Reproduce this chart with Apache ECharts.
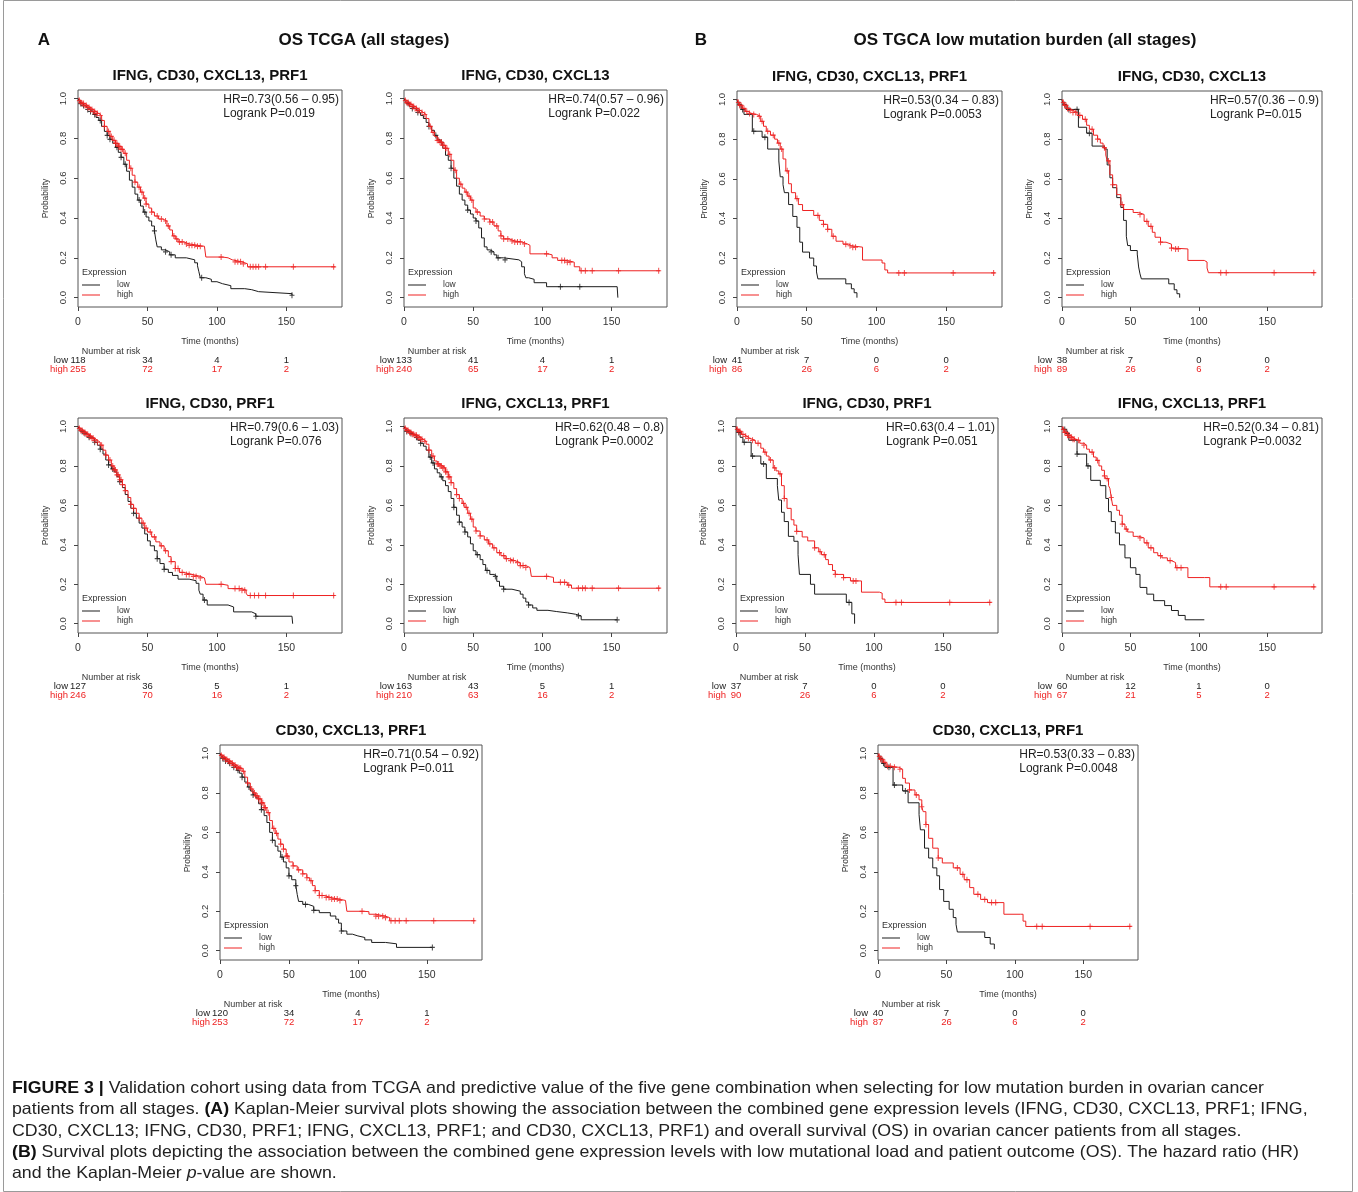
<!DOCTYPE html>
<html><head><meta charset="utf-8">
<script src="https://cdn.jsdelivr.net/npm/echarts@6/dist/echarts.min.js"></script>
<style>html,body{margin:0;padding:0;background:#fff}#c{width:1358px;height:1192px}</style>
</head><body><div id="c"></div>
<script>
// ---------------- DATA ----------------
const panelTitles = ['IFNG, CD30, CXCL13, PRF1','IFNG, CD30, CXCL13','IFNG, CD30, PRF1','IFNG, CXCL13, PRF1','CD30, CXCL13, PRF1',
                     'IFNG, CD30, CXCL13, PRF1','IFNG, CD30, CXCL13','IFNG, CD30, PRF1','IFNG, CXCL13, PRF1','CD30, CXCL13, PRF1'];
const hrTexts = ['HR=0.73(0.56 – 0.95)','HR=0.74(0.57 – 0.96)','HR=0.79(0.6 – 1.03)','HR=0.62(0.48 – 0.8)','HR=0.71(0.54 – 0.92)',
                 'HR=0.53(0.34 – 0.83)','HR=0.57(0.36 – 0.9)','HR=0.63(0.4 – 1.01)','HR=0.52(0.34 – 0.81)','HR=0.53(0.33 – 0.83)'];
const pTexts = ['Logrank P=0.019','Logrank P=0.022','Logrank P=0.076','Logrank P=0.0002','Logrank P=0.011',
                'Logrank P=0.0053','Logrank P=0.015','Logrank P=0.051','Logrank P=0.0032','Logrank P=0.0048'];
const riskTimes = [0, 50, 100, 150];
const riskLow  = [[118,34,4,1],[133,41,4,1],[127,36,5,1],[163,43,5,1],[120,34,4,1],[41,7,0,0],[38,7,0,0],[37,7,0,0],[60,12,1,0],[40,7,0,0]];
const riskHigh = [[255,72,17,2],[240,65,17,2],[246,70,16,2],[210,63,16,2],[253,72,17,2],[86,26,6,2],[89,26,6,2],[90,26,6,2],[67,21,5,2],[87,26,6,2]];
const yTicks = [0, 0.2, 0.4, 0.6, 0.8, 1.0];
const xTicks = [0, 50, 100, 150];

// A1
const a1Low = [[0,1],[1,0.985],[2,0.975],[3,0.965],[5,0.955],[7,0.945],[9,0.935],[11,0.92],[13,0.905],[15,0.89],[17,0.86],[19,0.835],[21,0.815],[23,0.795],[25,0.775],[27,0.755],[29,0.73],[31,0.705],[33,0.67],[35,0.635],[37,0.59],[39,0.555],[41,0.52],[43,0.49],[45,0.46],[47,0.43],[49,0.405],[51,0.385],[53,0.36],[55,0.335],[56,0.29],[57,0.255],[60,0.24],[63,0.23],[66,0.215],[70,0.2],[78,0.19],[84,0.175],[86,0.16],[87,0.13],[88,0.1],[92,0.092],[96,0.08],[100,0.07],[104,0.06],[110,0.045],[120,0.04],[125,0.03],[130,0.02],[154,0.012]];
const a1High = [[0,1],[1,0.99],[2,0.98],[3,0.975],[5,0.965],[7,0.955],[9,0.945],[11,0.935],[13,0.925],[15,0.915],[17,0.89],[19,0.86],[21,0.835],[23,0.81],[25,0.79],[27,0.775],[29,0.76],[31,0.745],[33,0.725],[35,0.69],[37,0.65],[39,0.615],[41,0.58],[43,0.555],[45,0.53],[47,0.5],[49,0.47],[51,0.45],[53,0.43],[55,0.41],[58,0.395],[61,0.385],[64,0.36],[66,0.34],[68,0.31],[70,0.295],[72,0.28],[76,0.27],[80,0.263],[86,0.258],[91,0.255],[92,0.204],[104,0.2],[108,0.19],[111,0.18],[118,0.17],[122,0.155],[185,0.155]];
const a1LowCens = [2,4,7,9,12,16,21,23,28,31,34,44,48,55,63,67,89,154];
const a1HighCens = [1,2,3,4,5,6,7,8,9,10,11,12,13,14,16,19,22,24,26,27,28,29,30,31,32,34,38,41,44,46,48,49,53,57,60,63,65,69,71,73,75,78,80,82,84,86,88,103,113,115,117,119,124,126,128,130,135,155,184];
// A2
const a2Low = [[0,1],[1,0.985],[2,0.975],[4,0.96],[6,0.95],[8,0.94],[10,0.93],[12,0.915],[14,0.9],[16,0.88],[18,0.86],[20,0.84],[22,0.815],[24,0.795],[26,0.78],[28,0.75],[30,0.715],[32,0.69],[34,0.65],[36,0.6],[38,0.56],[40,0.52],[42,0.49],[44,0.465],[46,0.44],[48,0.42],[50,0.4],[52,0.385],[54,0.35],[56,0.3],[58,0.255],[60,0.24],[62,0.23],[65,0.215],[67,0.2],[72,0.19],[83,0.18],[85,0.155],[87,0.12],[88,0.1],[90,0.092],[94,0.075],[103,0.055],[154,0.055],[154.5,0]];
const a2High = [[0,1],[1,0.99],[2,0.98],[4,0.97],[6,0.96],[8,0.95],[10,0.94],[12,0.93],[14,0.92],[16,0.9],[18,0.86],[20,0.83],[22,0.81],[24,0.79],[26,0.78],[28,0.765],[30,0.75],[32,0.72],[34,0.69],[36,0.64],[38,0.6],[40,0.57],[42,0.55],[44,0.53],[46,0.51],[48,0.49],[50,0.45],[52,0.43],[55,0.41],[58,0.395],[62,0.38],[65,0.36],[68,0.335],[70,0.31],[72,0.295],[76,0.285],[80,0.28],[85,0.27],[89,0.263],[91,0.22],[104,0.215],[107,0.2],[111,0.187],[118,0.178],[123,0.155],[127,0.135],[185,0.135]];
const a2LowCens = [3,6,10,18,23,27,34,46,52,63,68,73,113,127];
const a2HighCens = [1,2,3,4,5,6,7,8,9,10,11,13,15,19,21,24,25,26,27,28,29,30,31,33,37,41,45,47,49,53,58,62,64,67,70,72,75,78,80,82,84,87,103,114,116,118,120,128,131,136,155,184];
// A3
const a3Low = [[0,1],[1,0.985],[2,0.975],[4,0.965],[6,0.955],[8,0.945],[10,0.935],[12,0.92],[14,0.905],[16,0.885],[18,0.86],[20,0.83],[22,0.805],[24,0.785],[26,0.77],[28,0.745],[30,0.72],[32,0.69],[34,0.655],[36,0.62],[38,0.585],[40,0.56],[42,0.535],[44,0.51],[46,0.485],[48,0.455],[50,0.42],[52,0.395],[55,0.37],[57,0.33],[59,0.305],[62,0.276],[65,0.26],[68,0.245],[72,0.226],[80,0.218],[85,0.205],[87,0.17],[88,0.15],[90,0.12],[93,0.095],[108,0.085],[112,0.06],[125,0.05],[128,0.038],[154,0.038],[154.5,0]];
const a3High = [[0,1],[1,0.99],[2,0.98],[4,0.97],[6,0.96],[8,0.95],[10,0.94],[12,0.93],[14,0.92],[16,0.905],[18,0.88],[20,0.855],[22,0.83],[24,0.8],[26,0.78],[28,0.755],[30,0.73],[32,0.705],[34,0.675],[36,0.64],[38,0.605],[40,0.585],[42,0.56],[44,0.535],[46,0.51],[48,0.485],[50,0.465],[53,0.44],[56,0.415],[59,0.395],[62,0.37],[65,0.34],[67,0.315],[70,0.28],[73,0.26],[76,0.25],[82,0.24],[88,0.232],[91,0.225],[92,0.2],[104,0.195],[108,0.178],[118,0.17],[121,0.155],[122,0.143],[185,0.143]];
const a3LowCens = [3,5,8,12,16,22,25,30,40,57,62,91,128];
const a3HighCens = [1,2,3,4,5,6,7,8,9,10,11,12,14,17,20,23,25,26,27,28,29,30,31,32,34,38,40,44,47,49,52,55,60,63,67,70,72,75,78,80,83,85,88,103,113,116,118,120,124,127,130,135,155,184];
// A4
const a4Low = [[0,1],[1,0.985],[2,0.975],[4,0.965],[6,0.955],[8,0.945],[10,0.93],[12,0.915],[14,0.9],[16,0.88],[18,0.845],[20,0.815],[22,0.785],[24,0.765],[26,0.745],[28,0.725],[30,0.7],[32,0.67],[34,0.635],[36,0.59],[38,0.55],[40,0.515],[42,0.49],[44,0.465],[46,0.44],[48,0.405],[50,0.37],[52,0.35],[55,0.325],[57,0.3],[59,0.27],[62,0.25],[65,0.24],[67,0.215],[69,0.19],[72,0.175],[78,0.165],[84,0.15],[86,0.13],[88,0.11],[90,0.095],[93,0.08],[96,0.068],[104,0.062],[110,0.055],[118,0.048],[124,0.04],[128,0.02],[154,0.02]];
const a4High = [[0,1],[1,0.99],[2,0.98],[4,0.97],[6,0.96],[8,0.955],[10,0.945],[12,0.935],[14,0.925],[16,0.91],[18,0.88],[20,0.85],[22,0.825],[24,0.81],[26,0.8],[28,0.79],[30,0.77],[32,0.745],[34,0.715],[36,0.685],[38,0.655],[40,0.635],[42,0.61],[44,0.59],[46,0.56],[48,0.53],[50,0.49],[52,0.47],[55,0.445],[58,0.425],[61,0.405],[64,0.385],[67,0.36],[70,0.345],[73,0.33],[76,0.32],[80,0.31],[84,0.295],[88,0.285],[91,0.275],[92,0.24],[104,0.235],[108,0.21],[118,0.196],[121,0.18],[185,0.18]];
const a4LowCens = [2,5,9,12,19,21,27,36,40,44,53,60,66,72,90,126,154];
const a4HighCens = [1,2,3,4,5,6,7,8,9,10,11,12,13,15,18,21,24,25,26,27,28,29,30,31,32,33,34,38,40,43,45,47,49,52,55,60,62,65,69,72,74,77,79,82,84,86,88,103,113,116,119,126,129,131,136,155,184];
// A5
const a5Low = [[0,1],[1,0.985],[2,0.975],[4,0.962],[6,0.95],[8,0.94],[10,0.93],[12,0.915],[14,0.9],[16,0.88],[18,0.855],[20,0.83],[22,0.81],[24,0.79],[26,0.775],[28,0.745],[30,0.715],[32,0.685],[34,0.65],[36,0.6],[38,0.56],[40,0.53],[42,0.505],[44,0.475],[46,0.45],[48,0.42],[50,0.38],[52,0.36],[55,0.33],[56,0.285],[57,0.25],[60,0.235],[64,0.225],[68,0.205],[72,0.193],[80,0.176],[84,0.16],[86,0.14],[88,0.1],[92,0.084],[96,0.075],[100,0.067],[105,0.055],[110,0.042],[120,0.035],[128,0.017],[154,0.017]];
const a5High = [[0,1],[1,0.99],[2,0.98],[4,0.97],[6,0.96],[8,0.95],[10,0.94],[12,0.93],[14,0.925],[16,0.91],[18,0.88],[20,0.85],[22,0.82],[24,0.8],[26,0.785],[28,0.77],[30,0.75],[32,0.725],[34,0.7],[36,0.66],[38,0.62],[40,0.595],[42,0.566],[44,0.54],[46,0.515],[48,0.48],[50,0.45],[53,0.43],[56,0.41],[60,0.39],[63,0.37],[65,0.355],[67,0.33],[69,0.305],[72,0.28],[76,0.27],[80,0.262],[86,0.255],[91,0.25],[92,0.2],[104,0.198],[108,0.185],[113,0.175],[120,0.168],[123,0.152],[185,0.152]];
const a5LowCens = [2,4,7,10,13,16,21,24,30,38,45,50,55,62,68,88,154];
const a5HighCens = [1,2,3,4,5,6,7,8,9,10,11,12,13,14,15,17,20,23,25,26,27,28,29,30,31,32,33,35,39,41,44,46,48,49,53,57,60,63,66,69,72,74,77,79,81,83,85,87,103,113,115,118,120,124,127,130,135,155,184];
// B1
const b1Low = [[0,1],[1,0.975],[3,0.95],[5,0.925],[11,0.84],[18,0.81],[22,0.75],[30,0.69],[31,0.61],[33,0.57],[34,0.53],[37,0.47],[40,0.41],[43,0.355],[45,0.28],[47,0.23],[52,0.2],[55,0.16],[57,0.13],[58,0.095],[78,0.07],[82,0.045],[84,0.025],[86,0]];
const b1High = [[0,1],[1,0.985],[2,0.97],[4,0.955],[6,0.94],[8,0.93],[10,0.925],[14,0.915],[17,0.89],[19,0.865],[21,0.84],[24,0.82],[27,0.8],[29,0.78],[31,0.75],[33,0.7],[35,0.64],[37,0.575],[39,0.53],[42,0.5],[44,0.47],[47,0.44],[55,0.415],[59,0.39],[62,0.37],[65,0.345],[68,0.31],[71,0.285],[76,0.27],[80,0.262],[82,0.255],[90,0.19],[104,0.175],[106,0.14],[108,0.125],[185,0.125]];
const b1LowCens = [2,4,12,20];
const b1HighCens = [1,2,3,5,7,9,12,16,18,22,26,30,32,36,43,58,62,65,69,78,81,83,85,116,120,155,184];
// B2
const b2Low = [[0,1],[1,0.975],[3,0.95],[12,0.86],[18,0.83],[22,0.765],[31,0.75],[33,0.67],[35,0.605],[37,0.555],[40,0.505],[43,0.455],[45,0.39],[47,0.31],[48,0.263],[50,0.238],[55,0.22],[56,0.155],[57,0.12],[58,0.095],[78,0.07],[82,0.04],[84,0.02],[86,0]];
const b2High = [[0,1],[1,0.985],[2,0.97],[4,0.955],[6,0.945],[8,0.935],[11,0.92],[15,0.9],[18,0.87],[20,0.85],[23,0.82],[26,0.8],[28,0.78],[30,0.757],[32,0.72],[33,0.69],[35,0.62],[37,0.57],[40,0.52],[43,0.47],[45,0.445],[52,0.43],[56,0.42],[60,0.385],[63,0.36],[66,0.33],[68,0.305],[72,0.28],[76,0.27],[80,0.25],[82,0.246],[92,0.188],[104,0.18],[106,0.15],[107,0.126],[185,0.126]];
const b2LowCens = [2,5,11,20];
const b2HighCens = [1,2,3,4,6,8,10,13,17,22,26,31,34,37,44,57,62,65,72,80,83,85,116,120,155,184];
// B3
const b3Low = [[0,1],[1,0.97],[3,0.945],[5,0.92],[11,0.85],[18,0.81],[22,0.736],[30,0.7],[31,0.627],[33,0.565],[35,0.518],[38,0.443],[42,0.418],[45,0.35],[46,0.25],[54,0.2],[57,0.15],[80,0.108],[84,0.05],[86,0]];
const b3High = [[0,1],[1,0.985],[2,0.975],[4,0.96],[6,0.95],[8,0.94],[10,0.93],[14,0.915],[18,0.89],[20,0.87],[22,0.85],[24,0.83],[27,0.79],[29,0.775],[31,0.76],[33,0.7],[35,0.635],[37,0.585],[40,0.527],[42,0.5],[44,0.468],[48,0.44],[52,0.42],[57,0.385],[60,0.365],[62,0.35],[65,0.325],[67,0.3],[70,0.27],[72,0.25],[78,0.234],[83,0.217],[91,0.16],[104,0.155],[106,0.125],[108,0.108],[185,0.108]];
const b3LowCens = [2,6,12,20,82];
const b3HighCens = [1,2,3,5,7,9,12,16,21,25,28,32,35,44,57,61,64,72,78,85,87,116,120,155,184];
// B4
const b4Low = [[0,1],[1,0.985],[3,0.965],[5,0.93],[11,0.86],[18,0.8],[21,0.727],[28,0.7],[32,0.635],[34,0.568],[36,0.518],[39,0.46],[42,0.4],[46,0.334],[50,0.284],[54,0.25],[57,0.184],[62,0.15],[67,0.117],[75,0.092],[80,0.067],[85,0.042],[90,0.02],[104,0.02]];
const b4High = [[0,1],[1,0.985],[2,0.97],[4,0.955],[6,0.945],[8,0.935],[10,0.93],[13,0.915],[16,0.905],[18,0.885],[20,0.87],[23,0.845],[25,0.828],[27,0.8],[29,0.778],[31,0.75],[32,0.736],[34,0.7],[35,0.686],[36,0.64],[37,0.6],[40,0.575],[42,0.55],[44,0.505],[46,0.48],[48,0.465],[52,0.443],[56,0.435],[60,0.41],[63,0.385],[67,0.36],[70,0.345],[73,0.334],[77,0.32],[80,0.31],[83,0.284],[92,0.234],[104,0.234],[108,0.187],[185,0.187]];
const b4LowCens = [2,4,11,19];
const b4HighCens = [1,2,3,4,5,6,7,8,9,12,16,22,26,31,33,36,44,47,57,62,65,72,79,84,87,116,120,155,184];
// B5
const b5Low = [[0,1],[1,0.975],[3,0.95],[5,0.93],[11,0.84],[18,0.81],[22,0.75],[30,0.69],[31,0.613],[34,0.52],[37,0.47],[40,0.42],[43,0.38],[45,0.31],[48,0.25],[52,0.21],[55,0.168],[57,0.134],[58,0.095],[78,0.067],[82,0.034],[85,0.008]];
const b5High = [[0,1],[1,0.985],[2,0.97],[4,0.955],[6,0.935],[10,0.93],[15,0.92],[18,0.874],[20,0.85],[23,0.815],[27,0.79],[30,0.765],[32,0.73],[33,0.705],[35,0.64],[37,0.57],[40,0.52],[44,0.47],[47,0.445],[55,0.42],[60,0.387],[63,0.36],[67,0.32],[70,0.286],[75,0.26],[80,0.244],[87,0.244],[92,0.185],[104,0.185],[106,0.15],[108,0.123],[185,0.123]];
const b5LowCens = [2,4,8,12,20];
const b5HighCens = [1,2,3,5,7,9,12,16,23,28,32,35,44,58,62,65,73,78,83,86,116,120,155,184];

const captionLines = [
  '{b|FIGURE 3 |} Validation cohort using data from TCGA and predictive value of the five gene combination when selecting for low mutation burden in ovarian cancer',
  'patients from all stages. {b|(A)} Kaplan-Meier survival plots showing the association between the combined gene expression levels (IFNG, CD30, CXCL13, PRF1; IFNG,',
  'CD30, CXCL13; IFNG, CD30, PRF1; IFNG, CXCL13, PRF1; and CD30, CXCL13, PRF1) and overall survival (OS) in ovarian cancer patients from all stages.',
  '{b|(B)} Survival plots depicting the association between the combined gene expression levels with low mutational load and patient outcome (OS). The hazard ratio (HR)',
  'and the Kaplan-Meier {i|p}-value are shown.'
];

// ---------------- LAYOUT ----------------
const W = 1358;
const FONT = 'Liberation Sans';
const LOW_C = '#1c1c1c', HIGH_C = '#ee2222', AX_C = '#444';
const X_MAX = 190, Y_MIN = -0.047, Y_MAX = 1.043;
// [left, top, width, height]
const boxes = [
  [78,90,264,217],[404,90,263,217],[78,418,264,215],[404,418,263,215],[220,745,262,215],
  [737,91,265,216],[1062,91,260,216],[736,418,262,215],[1062,418,260,215],[878,745,260,215]
];
const curves = [
  [a1Low,a1High,a1LowCens,a1HighCens],[a2Low,a2High,a2LowCens,a2HighCens],[a3Low,a3High,a3LowCens,a3HighCens],
  [a4Low,a4High,a4LowCens,a4HighCens],[a5Low,a5High,a5LowCens,a5HighCens],
  [b1Low,b1High,b1LowCens,b1HighCens],[b2Low,b2High,b2LowCens,b2HighCens],[b3Low,b3High,b3LowCens,b3HighCens],
  [b4Low,b4High,b4LowCens,b4HighCens],[b5Low,b5High,b5LowCens,b5HighCens]
];

function stepAt(curve, t) {
  let y = curve[0][1];
  for (const p of curve) { if (p[0] <= t) y = p[1]; else break; }
  return y;
}
const plusPath = 'path://M-1,-5H1V-1H5V1H1V5H-1V1H-5V-1H-1Z';
const AXES_PER_GRID = 4;

const grid = [], xAxis = [], yAxis = [], series = [], legend = [], graphic = [];

boxes.forEach((b, i) => {
  const [L, T, Wd, H] = b;
  const B = T + H;
  grid.push({left: L, top: T, width: Wd, height: H, show: true, borderColor: '#555', borderWidth: 1});
  const baseX = {gridIndex: i, type: 'value', min: 0, max: X_MAX, interval: 50, position: 'bottom',
    axisLine: {show: false, onZero: false}, splitLine: {show: false}};
  // main x axis: labels + title (series use this one)
  xAxis.push(Object.assign({}, baseX, {
    axisTick: {show: false},
    axisLabel: {fontFamily: FONT, fontSize: 10.5, color: '#333', margin: 15, verticalAlign: 'middle', showMaxLabel: false},
    name: 'Time (months)', nameLocation: 'middle', nameGap: 30,
    nameTextStyle: {fontFamily: FONT, fontSize: 9, color: '#333'}
  }));
  // tick-only axis on the box edge
  xAxis.push(Object.assign({}, baseX, {
    offset: 0,
    axisTick: {show: true, length: 4, lineStyle: {color: AX_C}, customValues: xTicks},
    axisLabel: {show: false}
  }));
  // risk table rows as extra axes sharing the same scale
  [[riskLow[i], 53, '#222'], [riskHigh[i], 62, HIGH_C]].forEach(([arr, off, col]) => {
    xAxis.push(Object.assign({}, baseX, {
      offset: off, axisTick: {show: false},
      axisLabel: {fontFamily: FONT, fontSize: 9.5, color: col, margin: 0, verticalAlign: 'middle', showMaxLabel: false,
        formatter: v => { const k = riskTimes.indexOf(v); return k < 0 ? '' : String(arr[k]); }}
    }));
  });
  const xi = i * AXES_PER_GRID;
  yAxis.push({
    gridIndex: i, type: 'value', min: Y_MIN, max: Y_MAX, position: 'left',
    axisLine: {show: false, onZero: false}, splitLine: {show: false},
    axisTick: {show: true, length: 4, lineStyle: {color: AX_C}, customValues: yTicks},
    axisLabel: {fontFamily: FONT, fontSize: 9.5, color: '#333', rotate: 90, margin: 10, customValues: yTicks,
      formatter: v => Number(v).toFixed(1)},
    name: 'Probability', nameLocation: 'middle', nameGap: 28, nameRotate: 90,
    nameTextStyle: {fontFamily: FONT, fontSize: 8.5, color: '#333'}
  });
  const [lo, hi, loC, hiC] = curves[i];
  series.push({type: 'line', name: 'low', xAxisIndex: xi, yAxisIndex: i, data: lo, step: 'end', symbol: 'none',
    color: LOW_C, lineStyle: {width: 1, color: LOW_C}, silent: true, animation: false, z: 3});
  series.push({type: 'line', name: 'high', xAxisIndex: xi, yAxisIndex: i, data: hi, step: 'end', symbol: 'none',
    color: HIGH_C, lineStyle: {width: 1, color: HIGH_C}, silent: true, animation: false, z: 4});
  series.push({type: 'scatter', name: 'low censored', xAxisIndex: xi, yAxisIndex: i,
    data: loC.map(t => [t, stepAt(lo, t)]), symbol: plusPath, symbolSize: [5, 6],
    itemStyle: {color: LOW_C}, silent: true, animation: false, z: 3});
  series.push({type: 'scatter', name: 'high censored', xAxisIndex: xi, yAxisIndex: i,
    data: hiC.map(t => [t, stepAt(hi, t)]), symbol: plusPath, symbolSize: [5, 6],
    itemStyle: {color: HIGH_C}, silent: true, animation: false, z: 4});
  legend.push({
    data: ['low', 'high'], orient: 'vertical', left: L + 4, top: B - 27, padding: 0, itemGap: 0,
    itemWidth: 18, itemHeight: 1, icon: 'rect', selectedMode: false,
    textStyle: {fontFamily: FONT, fontSize: 8.5, color: '#333', lineHeight: 10, padding: [0, 0, 0, 12]}
  });
  // panel texts
  graphic.push({type: 'text', x: L + Wd / 2, y: T - 14, style: {text: panelTitles[i], fontFamily: FONT, fontWeight: 'bold', fontSize: 15, fill: '#111', align: 'center', verticalAlign: 'middle'}});
  graphic.push({type: 'text', right: W - (L + Wd) + 3, top: T + 3, style: {text: hrTexts[i] + '\n' + pTexts[i], fontFamily: FONT, fontSize: 12, lineHeight: 13.5, fill: '#222', align: 'left'}});
  graphic.push({type: 'text', x: L + 4, y: B - 34, style: {text: 'Expression', fontFamily: FONT, fontSize: 9, fill: '#333', align: 'left', verticalAlign: 'middle'}});
  graphic.push({type: 'text', x: L + 33, y: B + 45, style: {text: 'Number at risk', fontFamily: FONT, fontSize: 9, fill: '#333', align: 'center', verticalAlign: 'middle'}});
  graphic.push({type: 'text', x: L - 10, y: B + 53, style: {text: 'low', fontFamily: FONT, fontSize: 9.5, fill: '#222', align: 'right', verticalAlign: 'middle'}});
  graphic.push({type: 'text', x: L - 10, y: B + 62, style: {text: 'high', fontFamily: FONT, fontSize: 9.5, fill: HIGH_C, align: 'right', verticalAlign: 'middle'}});
});

// section headers
graphic.push({type: 'text', x: 44, y: 40, style: {text: 'A', fontFamily: FONT, fontWeight: 'bold', fontSize: 17, fill: '#111', align: 'center', verticalAlign: 'middle'}});
graphic.push({type: 'text', x: 364, y: 40, style: {text: 'OS TCGA (all stages)', fontFamily: FONT, fontWeight: 'bold', fontSize: 17, fill: '#111', align: 'center', verticalAlign: 'middle'}});
graphic.push({type: 'text', x: 701, y: 40, style: {text: 'B', fontFamily: FONT, fontWeight: 'bold', fontSize: 17, fill: '#111', align: 'center', verticalAlign: 'middle'}});
graphic.push({type: 'text', x: 1025, y: 40, style: {text: 'OS TGCA low mutation burden (all stages)', fontFamily: FONT, fontWeight: 'bold', fontSize: 17, fill: '#111', align: 'center', verticalAlign: 'middle'}});

// caption (condensed look via horizontal scaling)
const CAP_SIZE = 16.5;
const cv = document.createElement('canvas').getContext('2d');
function measureRich(line) {
  let w = 0; const re = /\{(\w)\|([^}]*)\}|([^{]+)/g; let m;
  while ((m = re.exec(line))) {
    if (m[3] !== undefined) { cv.font = CAP_SIZE + 'px "' + FONT + '"'; w += cv.measureText(m[3]).width; }
    else { cv.font = (m[1] === 'b' ? 'bold ' : 'italic ') + CAP_SIZE + 'px "' + FONT + '"'; w += cv.measureText(m[2]).width; }
  }
  return w;
}
const capScale = 1252 / measureRich(captionLines[0]);
const capY = [1088, 1109.5, 1131, 1152, 1173.5];
captionLines.forEach((ln, k) => {
  graphic.push({type: 'text', x: 12, y: capY[k], scaleX: capScale, style: {
    text: ln, fontFamily: FONT, fontSize: CAP_SIZE, fill: '#222', align: 'left', verticalAlign: 'middle',
    rich: {b: {fontWeight: 'bold', fontFamily: FONT, fontSize: CAP_SIZE, fill: '#111'}, i: {fontStyle: 'italic', fontFamily: FONT, fontSize: CAP_SIZE, fill: '#222'}}
  }});
});
// outer frame
graphic.push({type: 'rect', shape: {x: 3.5, y: 0.5, width: 1349, height: 1191}, style: {fill: 'none', stroke: '#9a9a9a', lineWidth: 1}, z: -1});

const chart = echarts.init(document.getElementById('c'), null, {renderer: 'canvas'});
chart.setOption({
  backgroundColor: '#fff', animation: false,
  grid, xAxis, yAxis, series, legend, graphic
});
</script>
</body></html>
